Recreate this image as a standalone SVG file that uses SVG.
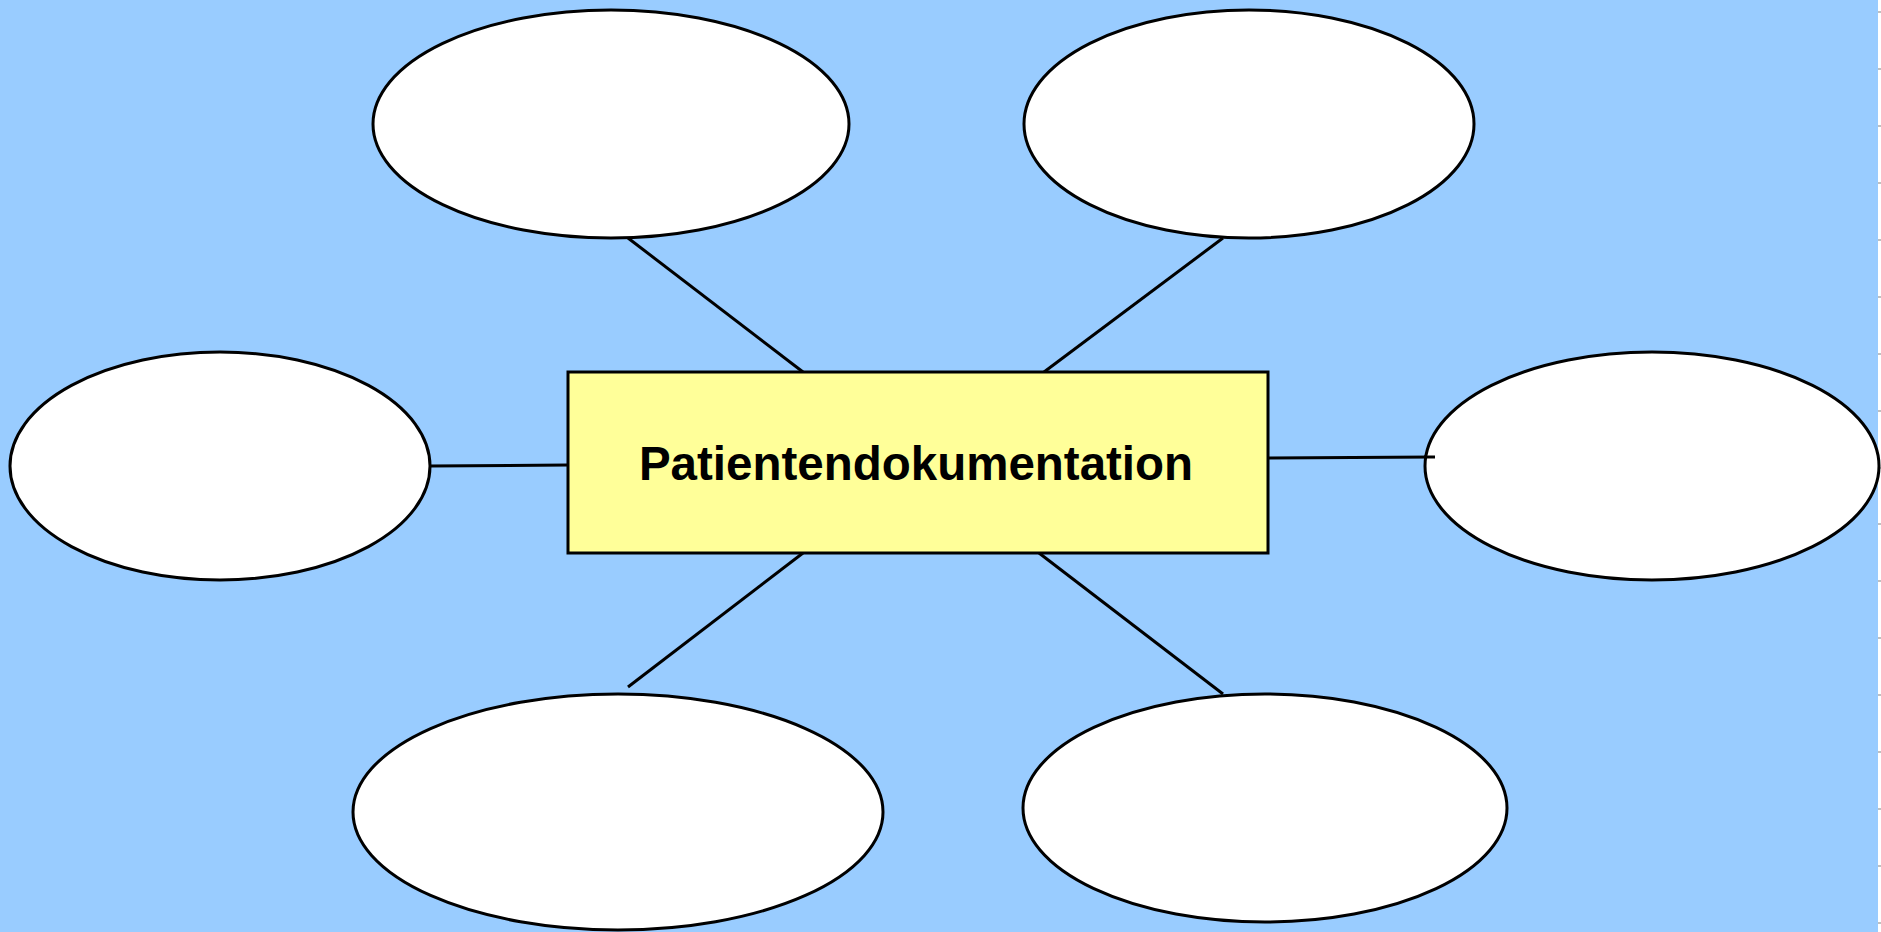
<svg xmlns="http://www.w3.org/2000/svg" width="1881" height="932" viewBox="0 0 1881 932">
  <style>
    .bubble { fill: #FFFFFF; stroke: #000000; stroke-width: 3; }
    .core { fill: #FFFF99; stroke: #000000; stroke-width: 3; }
    .link { stroke: #000000; stroke-width: 3; fill: none; }
    .tick { stroke: #C0C0C0; stroke-width: 2; }
    .title { font-family: "Liberation Sans", Arial, sans-serif; font-weight: bold; font-size: 47.5px; fill: #000000; }
  </style>

  <!-- page background with ruler strip at the right edge -->
  <rect x="0" y="0" width="1881" height="932" fill="#FFFFFF"/>
  <rect x="0" y="0" width="1878" height="932" fill="#99CCFF"/>
  <g id="ruler">
    <line class="tick" x1="1878" y1="12" x2="1881" y2="12"/>
    <line class="tick" x1="1878" y1="69" x2="1881" y2="69"/>
    <line class="tick" x1="1878" y1="126" x2="1881" y2="126"/>
    <line class="tick" x1="1878" y1="183" x2="1881" y2="183"/>
    <line class="tick" x1="1878" y1="240" x2="1881" y2="240"/>
    <line class="tick" x1="1878" y1="297" x2="1881" y2="297"/>
    <line class="tick" x1="1878" y1="354" x2="1881" y2="354"/>
    <line class="tick" x1="1878" y1="411" x2="1881" y2="411"/>
    <line class="tick" x1="1878" y1="468" x2="1881" y2="468"/>
    <line class="tick" x1="1878" y1="524" x2="1881" y2="524"/>
    <line class="tick" x1="1878" y1="581" x2="1881" y2="581"/>
    <line class="tick" x1="1878" y1="638" x2="1881" y2="638"/>
    <line class="tick" x1="1878" y1="695" x2="1881" y2="695"/>
    <line class="tick" x1="1878" y1="752" x2="1881" y2="752"/>
    <line class="tick" x1="1878" y1="809" x2="1881" y2="809"/>
    <line class="tick" x1="1878" y1="866" x2="1881" y2="866"/>
    <line class="tick" x1="1878" y1="923" x2="1881" y2="923"/>
  </g>

  <!-- connectors from the central box to the surrounding ellipses -->
  <g id="connectors">
    <line class="link" x1="628" y1="238" x2="803" y2="372"/>
    <line class="link" x1="1223" y1="238" x2="1044" y2="372"/>
    <line class="link" x1="430" y1="466" x2="568" y2="465"/>
    <line class="link" x1="1268" y1="458" x2="1435" y2="457"/>
    <line class="link" x1="803" y1="553" x2="628" y2="687"/>
    <line class="link" x1="1039" y1="553" x2="1223" y2="694"/>
  </g>

  <g id="node-top-left">
    <ellipse class="bubble" cx="611" cy="124" rx="238" ry="114"/>
  </g>
  <g id="node-top-right">
    <ellipse class="bubble" cx="1249" cy="124" rx="225" ry="114"/>
  </g>
  <g id="node-left">
    <ellipse class="bubble" cx="220" cy="466" rx="210" ry="114"/>
  </g>
  <g id="node-right">
    <ellipse class="bubble" cx="1652" cy="466" rx="227" ry="114"/>
  </g>
  <g id="node-bottom-left">
    <ellipse class="bubble" cx="618" cy="812" rx="265" ry="118"/>
  </g>
  <g id="node-bottom-right">
    <ellipse class="bubble" cx="1265" cy="808" rx="242" ry="114"/>
  </g>

  <!-- re-draw the right connector tip over the ellipse edge -->
  <g id="connector-tip">
    <line class="link" x1="1424" y1="457" x2="1435" y2="457"/>
  </g>

  <g id="node-center">
    <rect class="core" x="568" y="372" width="700" height="181"/>
    <text class="title" x="916" y="480" text-anchor="middle">Patientendokumentation</text>
  </g>
</svg>
